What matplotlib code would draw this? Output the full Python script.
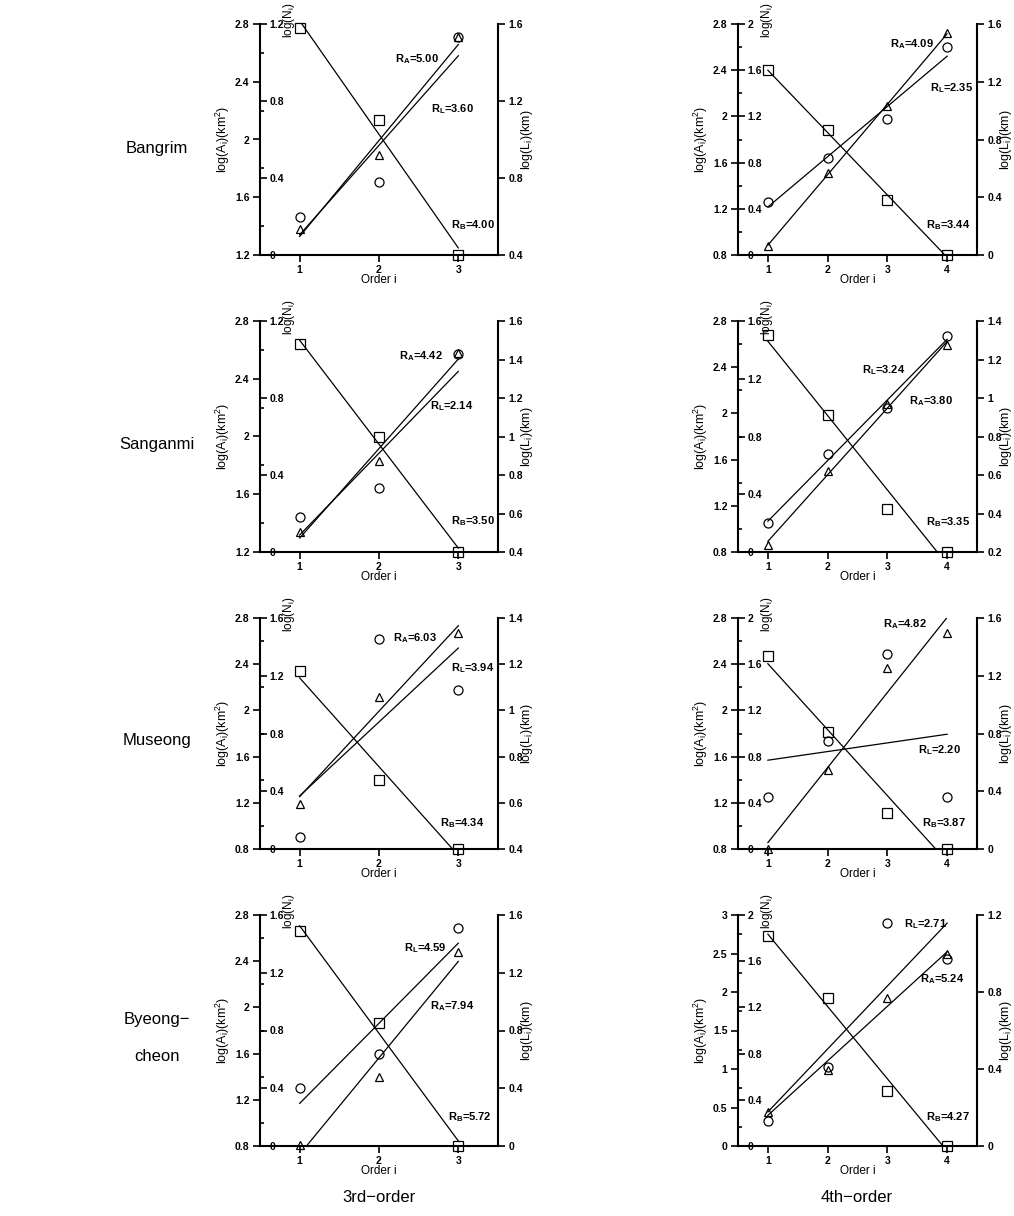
import matplotlib.pyplot as plt
import numpy as np
from matplotlib.ticker import MultipleLocator, FuncFormatter

plt.rcParams['font.family'] = ['Liberation Sans', 'DejaVu Sans']
plt.rcParams['font.size'] = 7.5
plt.rcParams['mathtext.fontset'] = 'custom'
plt.rcParams['mathtext.rm'] = 'Liberation Sans'
plt.rcParams['mathtext.it'] = 'Liberation Sans'
plt.rcParams['mathtext.bf'] = 'Liberation Sans:bold'

basins = ['Bangrim', 'Sanganmi', 'Museong', 'Byeong−\ncheon']
orders_3rd = [1, 2, 3]
orders_4th = [1, 2, 3, 4]

# log(N_i), log(A_i) [km2], log(L_i) [km] for each basin, by stream order
logn_3rd = [[1.18, 0.70, 0.0], [1.08, 0.60, 0.0], [1.23, 0.48, 0.0], [1.49, 0.85, 0.0]]
loga_3rd = [[1.38, 1.89, 2.71], [1.34, 1.83, 2.58], [1.19, 2.12, 2.67], [0.81, 1.40, 2.48]]
logl_3rd = [[0.60, 0.78, 1.53], [0.58, 0.73, 1.43], [0.45, 1.31, 1.09], [0.40, 0.64, 1.51]]

logn_4th = [[1.60, 1.08, 0.48, 0.0], [1.50, 0.95, 0.30, 0.0],
            [1.67, 1.01, 0.31, 0.0], [1.82, 1.28, 0.48, 0.0]]
loga_4th = [[0.88, 1.51, 2.09, 2.72], [0.86, 1.50, 2.08, 2.59],
            [0.80, 1.48, 2.37, 2.67], [0.44, 0.99, 1.92, 2.49]]
logl_4th = [[0.37, 0.67, 0.94, 1.44], [0.35, 0.71, 0.95, 1.32],
            [0.36, 0.75, 1.35, 0.36], [0.13, 0.41, 1.16, 0.97]]

# Horton ratios
ra_3rd = ['5.00', '4.42', '6.03', '7.94']
rl_3rd = ['3.60', '2.14', '3.94', '4.59']
rb_3rd = ['4.00', '3.50', '4.34', '5.72']
ra_4th = ['4.09', '3.80', '4.82', '5.24']
rl_4th = ['2.35', '3.24', '2.20', '2.71']
rb_4th = ['3.44', '3.35', '3.87', '4.27']

# axis ranges (low, high, major step) for A, N and L axes
alim_3rd = [(1.2, 2.8, 0.4), (1.2, 2.8, 0.4), (0.8, 2.8, 0.4), (0.8, 2.8, 0.4)]
nlim_3rd = [(0, 1.2, 0.4), (0, 1.2, 0.4), (0, 1.6, 0.4), (0, 1.6, 0.4)]
llim_3rd = [(0.4, 1.6, 0.4), (0.4, 1.6, 0.2), (0.4, 1.4, 0.2), (0, 1.6, 0.4)]
alim_4th = [(0.8, 2.8, 0.4), (0.8, 2.8, 0.4), (0.8, 2.8, 0.4), (0, 3, 0.5)]
nlim_4th = [(0, 2, 0.4), (0, 1.6, 0.4), (0, 2, 0.4), (0, 2, 0.4)]
llim_4th = [(0, 1.6, 0.4), (0.2, 1.4, 0.2), (0, 1.6, 0.4), (0, 1.2, 0.4)]

# ratio label spots (axes fraction): RA, RL, RB
spots_3rd = [[(0.567, 0.850), (0.718, 0.632), (0.801, 0.131)],
             [(0.585, 0.850), (0.714, 0.631), (0.801, 0.135)],
             [(0.560, 0.913), (0.801, 0.785), (0.756, 0.114)],
             [(0.714, 0.606), (0.605, 0.858), (0.791, 0.127)]]
spots_4th = [[(0.637, 0.913), (0.802, 0.723), (0.788, 0.131)],
             [(0.715, 0.654), (0.519, 0.786), (0.788, 0.131)],
             [(0.605, 0.975), (0.753, 0.427), (0.770, 0.110)],
             [(0.763, 0.724), (0.693, 0.962), (0.788, 0.127)]]

fmt = FuncFormatter(lambda v, p: f'{v:g}')


def fit_line(ax, x, y):
    k, b = np.polyfit(x, y, 1)
    xs = np.array([x[0], x[-1]], dtype=float)
    ax.plot(xs, k * xs + b, color='black', lw=0.9)


def points(ax, x, y, marker, ms):
    ax.plot(x, y, ls='none', marker=marker, ms=ms, mfc='none', mec='black',
            mew=0.9, clip_on=False, zorder=5)


def set_range(axis, lim):
    lo, hi, step = lim
    axis.set_ylim(lo, hi)
    axis.yaxis.set_major_locator(MultipleLocator(step))
    axis.yaxis.set_major_formatter(fmt)


def panel(ax, x, loga, logn, logl, alim, nlim, llim, ratios, spots):
    w_px = ax.get_position().width * 1014
    h_px = ax.get_position().height * 1216
    ax_n = ax.twinx()
    ax_l = ax.twinx()
    for a in (ax, ax_n, ax_l):
        a.set_xlim(0.5, x[-1] + 0.5)
        for s in a.spines.values():
            s.set_visible(False)
            s.set_linewidth(1.5)
    ax.spines['left'].set_visible(True)
    ax.spines['bottom'].set_visible(True)
    ax_l.spines['right'].set_visible(True)
    ax_n.spines['right'].set_position(('axes', 0))

    set_range(ax, alim)
    ax.yaxis.set_minor_locator(MultipleLocator(alim[2] / 2))
    set_range(ax_n, nlim)
    set_range(ax_l, llim)

    ax.set_xticks(x)
    ax.tick_params(axis='both', which='major', direction='out', length=5,
                   width=1.2, pad=2.5, labelsize=7.5)
    ax.tick_params(axis='y', which='minor', direction='in', length=3, width=1.2)
    ax_n.tick_params(axis='y', direction='out', length=5, width=1.2, pad=2,
                     labelsize=7.5)
    ax_l.tick_params(axis='y', direction='out', length=5, width=1.2, pad=2.5,
                     labelsize=7.5)
    for a in (ax, ax_n, ax_l):
        for lab in a.get_xticklabels() + a.get_yticklabels():
            lab.set_fontweight('bold')

    fit_line(ax_n, x, logn)
    fit_line(ax, x, loga)
    fit_line(ax_l, x, logl)
    points(ax_n, x, logn, 's', 7)
    points(ax, x, loga, '^', 6)
    points(ax_l, x, logl, 'o', 6.5)

    ax.set_ylabel('log(A$_\\mathrm{i}$)(km$^\\mathrm{2}$)', fontsize=9)
    ax.yaxis.label.set_verticalalignment('center')
    ax.yaxis.set_label_coords(-37 / w_px, 0.5)
    ax_l.set_ylabel('log(L$_\\mathrm{i}$)(km)', fontsize=9)
    ax_l.yaxis.label.set_verticalalignment('center')
    ax_l.yaxis.set_label_coords(1 + 29 / w_px, 0.5)
    ax.set_xlabel('Order i', fontsize=8.5)
    ax.xaxis.set_label_coords(0.5, -19 / h_px)
    ax.text(29 / w_px, 1 + 4 / h_px, 'log(N$_\\mathrm{i}$)', rotation=90,
            ha='center', va='center', fontsize=8.5, transform=ax.transAxes)

    names = ['A', 'L', 'B']
    for name, val, (tx, ty) in zip(names, ratios, spots):
        ax.text(tx, ty, 'R$_\\mathbf{' + name + '}$=' + val, ha='left', va='center',
                fontsize=8, fontweight='bold', transform=ax.transAxes)


fig = plt.figure(figsize=(10.14, 12.16), dpi=100)
W, H = 1014, 1216
row_top = [24, 321, 618, 915]
ax_h = 231

for r in range(4):
    y0 = 1 - (row_top[r] + ax_h) / H
    ax3 = fig.add_axes([260 / W, y0, 238 / W, ax_h / H])
    panel(ax3, orders_3rd, loga_3rd[r], logn_3rd[r], logl_3rd[r],
          alim_3rd[r], nlim_3rd[r], llim_3rd[r],
          [ra_3rd[r], rl_3rd[r], rb_3rd[r]], spots_3rd[r])
    ax4 = fig.add_axes([738 / W, y0, 239 / W, ax_h / H])
    panel(ax4, orders_4th, loga_4th[r], logn_4th[r], logl_4th[r],
          alim_4th[r], nlim_4th[r], llim_4th[r],
          [ra_4th[r], rl_4th[r], rb_4th[r]], spots_4th[r])

row_label_y = [148, 445, 741, 1038]
for name, yy in zip(basins, row_label_y):
    fig.text(157 / W, 1 - yy / H, name, ha='center', va='center', fontsize=12,
             linespacing=2.8)

fig.text(379 / W, 1 - 1197 / H, '3rd−order', ha='center', va='center', fontsize=12)
fig.text(857 / W, 1 - 1197 / H, '4th−order', ha='center', va='center', fontsize=12)

fig.savefig('out.png', dpi=100)
plt.close(fig)
